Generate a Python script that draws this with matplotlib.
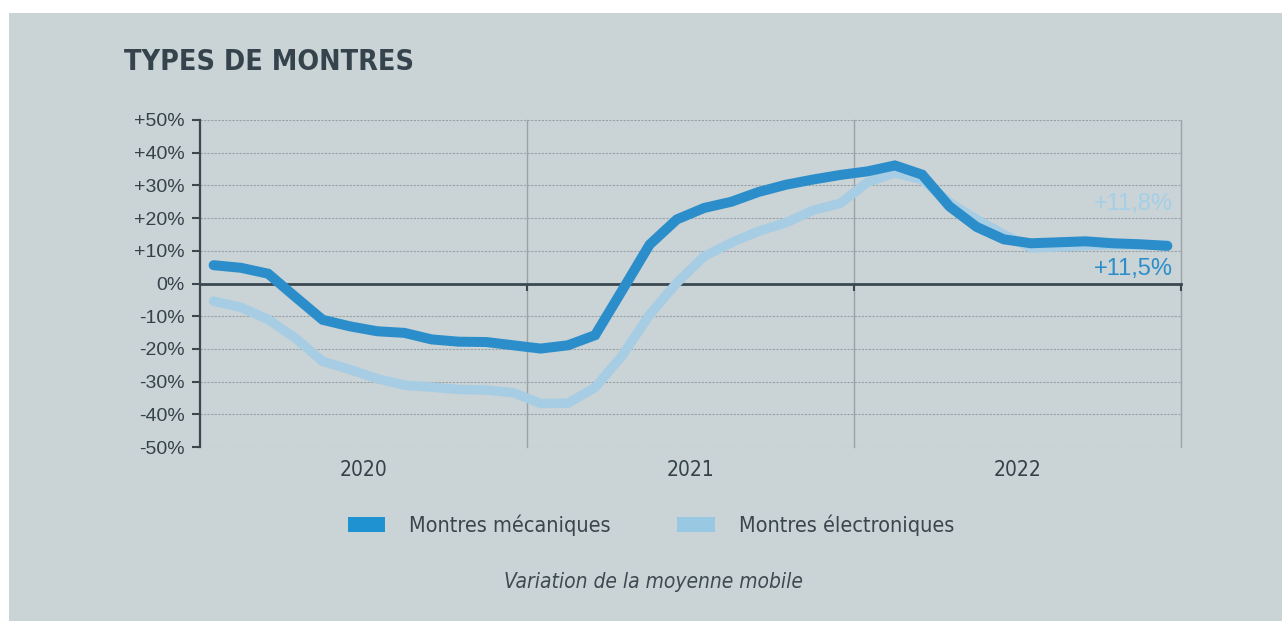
import numpy as np
import matplotlib
matplotlib.use("Agg")
import matplotlib.pyplot as plt
from matplotlib import font_manager
from matplotlib.patches import Patch, Rectangle
from matplotlib.ticker import FixedLocator

# monthly values, Jan 2020 .. Dec 2022 (variation de la moyenne mobile, %)
mecaniques = [5.6, 4.8, 3.0, -4.1, -11.1, -13.1, -14.6, -15.1, -17.1, -17.8, -17.9, -18.9,
              -19.9, -18.9, -15.8, -2.0, 11.9, 19.6, 23.1, 25.0, 28.0, 30.2, 31.8, 33.2,
              34.3, 36.1, 33.3, 23.6, 17.3, 13.5, 12.3, 12.6, 12.9, 12.3, 12.0, 11.5]
electroniques = [-5.4, -7.3, -11.0, -16.7, -23.8, -26.3, -29.1, -31.1, -31.7, -32.4, -32.6, -33.4,
                 -36.7, -36.6, -31.8, -22.0, -9.5, 0.2, 8.3, 12.5, 16.0, 18.6, 22.4, 24.5,
                 31.0, 33.8, 31.8, 24.8, 19.6, 15.0, 10.9, 11.2, 11.6, 11.8, 11.8, 11.8]
years = ["2020", "2021", "2022"]
y_ticks = [50, 40, 30, 20, 10, 0, -10, -20, -30, -40, -50]
last_meca = "+11,5%"
last_elec = "+11,8%"

months = np.arange(len(mecaniques)) + 0.5

# fonts: narrow face for title / legend if it is there
names = {f.name for f in font_manager.fontManager.ttflist}
narrow = "Liberation Sans Narrow" if "Liberation Sans Narrow" in names else "DejaVu Sans"
stretch = "normal" if narrow == "Liberation Sans Narrow" else "condensed"
plt.rcParams["font.family"] = ["Liberation Sans", "DejaVu Sans"]

bg = "#cad3d6"
dark_txt = "#34424a"
c_meca = "#2b8ecb"
c_elec = "#a6cde4"

fig = plt.figure(figsize=(12.82, 6.21), dpi=100)
fig.patch.set_facecolor("white")
fig.patches.append(Rectangle((9 / 1282, 0), 1, 608 / 621, transform=fig.transFigure,
                             facecolor=bg, edgecolor="none", zorder=-10))

ax = fig.add_axes([200 / 1282, 1 - 447 / 621, 981 / 1282, 327 / 621])
ax.patch.set_alpha(0)

ax.plot(months, electroniques, color=c_elec, lw=6.8, solid_capstyle="round",
        solid_joinstyle="miter", zorder=3)
ax.plot(months, mecaniques, color=c_meca, lw=7.2, solid_capstyle="round",
        solid_joinstyle="miter", zorder=4)

ax.set_xlim(0, 36)
ax.set_ylim(-50, 50)

# y axis
ax.set_yticks(y_ticks)
ax.set_yticklabels([("+%d%%" % v) if v > 0 else ("%d%%" % v) for v in y_ticks])
ax.tick_params(axis="y", length=6, width=1.5, color="#3c4850", labelsize=14,
               labelcolor=dark_txt, pad=5)
for v in y_ticks:
    if v != 0:
        ax.axhline(v, color="#98a1a5", lw=0.8, ls=(0, (2, 1.2)), zorder=1)

# zero line carries the year ticks
ax.spines["bottom"].set_position(("data", 0))
ax.spines["bottom"].set_color("#3c4850")
ax.spines["bottom"].set_linewidth(2)
ax.xaxis.set_major_locator(FixedLocator([12, 24, 36]))
ax.tick_params(axis="x", length=5, width=1.5, color="#3c4850", labelbottom=False)
ax.grid(axis="x", color="#9aa2a6", lw=1, clip_on=False)
ax.spines["left"].set_color("#3c4850")
ax.spines["left"].set_linewidth(1.6)
ax.spines["top"].set_visible(False)
ax.spines["right"].set_visible(False)

trans = ax.get_xaxis_transform()
for i, yr in enumerate(years):
    ax.text(12 * i + 6, -0.07, yr, transform=trans, ha="center", va="center",
            fontsize=15, color=dark_txt, family=narrow, fontstretch=stretch)

ax.text(35.7, electroniques[-1] + 12.5, last_elec, ha="right", va="center",
        fontsize=17, color="#a3cfe8")
ax.text(35.7, mecaniques[-1] - 7.0, last_meca, ha="right", va="center",
        fontsize=17, color=c_meca)

fig.text(124 / 1282, 1 - 62 / 621, "TYPES DE MONTRES", ha="left", va="center",
         fontsize=20.5, fontweight="bold", color="#35444c", family=narrow,
         fontstretch=stretch)

handles = [Patch(facecolor="#1f93d1", edgecolor="none", label="Montres mécaniques"),
           Patch(facecolor="#99c9e2", edgecolor="none", label="Montres électroniques")]
fig.legend(handles=handles, loc="center", bbox_to_anchor=(651 / 1282, 1 - 525 / 621),
           ncol=2, frameon=False, handlelength=1.75, handleheight=0.7,
           handletextpad=1.1, columnspacing=3.1,
           prop=dict(family=narrow, size=15.5, stretch=stretch))
for t in fig.legends[0].get_texts():
    t.set_color("#3a464d")

fig.text(653 / 1282, 1 - 582 / 621, "Variation de la moyenne mobile", ha="center",
         va="center", fontsize=15, style="italic", color="#3e4a52", family=narrow,
         fontstretch=stretch)

fig.savefig("out.png", dpi=100, facecolor=fig.get_facecolor())
